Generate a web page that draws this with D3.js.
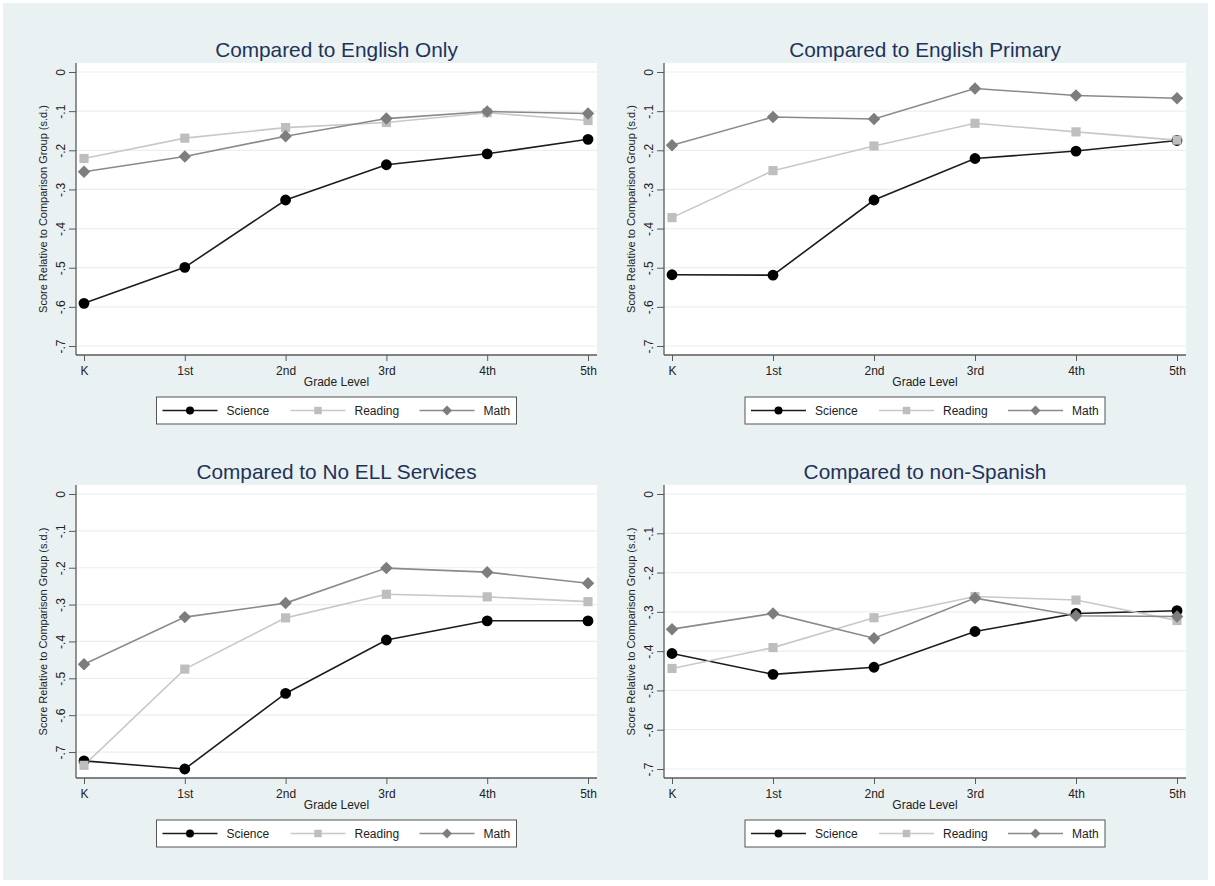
<!DOCTYPE html>
<html>
<head>
<meta charset="utf-8">
<script src="https://cdn.jsdelivr.net/npm/d3@7"></script>
<style>
  html, body { margin: 0; padding: 0; background: #ffffff; }
  svg { display: block; font-family: "Liberation Sans", Arial, sans-serif; }
</style>
</head>
<body>
<svg id="chart" width="1215" height="886"></svg>
<script>
// Grade levels on the x axis
const grades = ["K", "1st", "2nd", "3rd", "4th", "5th"];

// Y axis ticks and their labels
const yTickValues = [0, -0.1, -0.2, -0.3, -0.4, -0.5, -0.6, -0.7];
const yTickLabels = ["0", "-.1", "-.2", "-.3", "-.4", "-.5", "-.6", "-.7"];

// Panel titles
const panelTitles = [
  "Compared to English Only",
  "Compared to English Primary",
  "Compared to No ELL Services",
  "Compared to non-Spanish"
];

// Series names
const seriesNames = ["Science", "Reading", "Math"];

// Scores relative to comparison group (s.d.), one array per panel and subject
const scienceEnglishOnly = [-0.591, -0.499, -0.327, -0.237, -0.209, -0.172];
const readingEnglishOnly = [-0.221, -0.169, -0.142, -0.129, -0.104, -0.124];
const mathEnglishOnly    = [-0.255, -0.216, -0.164, -0.119, -0.101, -0.106];

const scienceEnglishPrimary = [-0.518, -0.519, -0.327, -0.221, -0.202, -0.175];
const readingEnglishPrimary = [-0.372, -0.252, -0.189, -0.131, -0.153, -0.174];
const mathEnglishPrimary    = [-0.187, -0.115, -0.120, -0.042, -0.060, -0.067];

const scienceNoEll = [-0.724, -0.746, -0.541, -0.396, -0.344, -0.344];
const readingNoEll = [-0.736, -0.475, -0.336, -0.272, -0.279, -0.292];
const mathNoEll    = [-0.462, -0.334, -0.296, -0.201, -0.212, -0.242];

const scienceNonSpanish = [-0.406, -0.459, -0.441, -0.350, -0.304, -0.297];
const readingNonSpanish = [-0.444, -0.391, -0.315, -0.261, -0.270, -0.322];
const mathNonSpanish    = [-0.344, -0.304, -0.367, -0.265, -0.310, -0.312];

const panelSeries = [
  [scienceEnglishOnly, readingEnglishOnly, mathEnglishOnly],
  [scienceEnglishPrimary, readingEnglishPrimary, mathEnglishPrimary],
  [scienceNoEll, readingNoEll, mathNoEll],
  [scienceNonSpanish, readingNonSpanish, mathNonSpanish]
];

// Styling
const seriesStyle = [
  { line: "#1c1c1c", fill: "#000000", symbol: "circle" },
  { line: "#c8c8c8", fill: "#bebebe", symbol: "square" },
  { line: "#8a8a8a", fill: "#7d7d7d", symbol: "diamond" }
];
const bgColor = "#eaf1f3";
const gridColor = "#e8eff2";
const axisColor = "#5a5a5a";
const textColor = "#222222";
const titleColor = "#1e3358";

const svg = d3.select("#chart");
svg.append("rect").attr("x", 0).attr("y", 0).attr("width", 1215).attr("height", 886).attr("fill", "#ffffff");
svg.append("rect").attr("x", 3).attr("y", 3).attr("width", 1205).attr("height", 877).attr("fill", bgColor);

function symbolPath(kind, big) {
  if (kind === "circle") return d3.symbol(d3.symbolCircle, big ? 92 : 50)();
  if (kind === "square") return d3.symbol(d3.symbolSquare, big ? 84 : 56)();
  return d3.symbol(d3.symbolSquare, big ? 78 : 50)();
}

const panelBoxes = [
  { left: 76,  right: 597,  top: 63,  bottom: 355 },
  { left: 664, right: 1186, top: 63,  bottom: 355 },
  { left: 76,  right: 597,  top: 485, bottom: 778 },
  { left: 664, right: 1186, top: 485, bottom: 778 }
];

panelBoxes.forEach((box, pi) => {
  const g = svg.append("g");
  const series = panelSeries[pi];
  const dataMin = d3.min(series.flat());
  const yMin = Math.min(-0.7, dataMin);

  const x = d3.scalePoint().domain(grades).range([box.left + 8, box.right - 9]);
  const y = d3.scaleLinear().domain([0, yMin]).range([box.top + 9, box.bottom - 9]);

  // plot region
  g.append("rect")
    .attr("x", box.left).attr("y", box.top)
    .attr("width", box.right - box.left).attr("height", box.bottom - box.top)
    .attr("fill", "#ffffff");

  // horizontal gridlines
  g.selectAll(".grid").data(yTickValues).join("line")
    .attr("x1", box.left).attr("x2", box.right)
    .attr("y1", d => y(d)).attr("y2", d => y(d))
    .attr("stroke", gridColor).attr("stroke-width", 1.2);

  // y axis
  const yAxis = d3.axisLeft(y).tickValues(yTickValues)
    .tickFormat((d, i) => yTickLabels[i]).tickSize(7).tickSizeOuter(0).tickPadding(3);
  const ya = g.append("g").attr("transform", `translate(${box.left},0)`).call(yAxis);
  ya.select(".domain").attr("stroke", axisColor).attr("stroke-width", 1.3)
    .attr("d", `M0,${box.top}V${box.bottom}`);
  ya.selectAll(".tick line").attr("stroke", axisColor).attr("stroke-width", 1);
  ya.selectAll(".tick text")
    .attr("font-size", 12).attr("fill", textColor)
    .attr("text-anchor", "middle")
    .attr("x", 0).attr("dy", 0)
    .attr("transform", "translate(-15,0) rotate(-90)")
    .attr("dominant-baseline", "central");

  // x axis
  const xAxis = d3.axisBottom(x).tickSize(6).tickSizeOuter(0).tickPadding(4);
  const xa = g.append("g").attr("transform", `translate(0,${box.bottom})`).call(xAxis);
  xa.select(".domain").attr("stroke", axisColor).attr("stroke-width", 1.3)
    .attr("d", `M${box.left},0H${box.right}`);
  xa.selectAll(".tick line").attr("stroke", axisColor).attr("stroke-width", 1);
  xa.selectAll(".tick text").attr("font-size", 12).attr("fill", textColor)
    .attr("y", 0).attr("dy", 20);

  // axis titles
  const midX = (box.left + box.right) / 2;
  const midY = (box.top + box.bottom) / 2;
  g.append("text")
    .attr("x", midX).attr("y", box.bottom + 31)
    .attr("text-anchor", "middle").attr("font-size", 12).attr("fill", textColor)
    .text("Grade Level");
  g.append("text")
    .attr("transform", `translate(${box.left - 29},${midY}) rotate(-90)`)
    .attr("text-anchor", "middle").attr("font-size", 11).attr("fill", textColor)
    .text("Score Relative to Comparison Group (s.d.)");

  // panel title
  g.append("text")
    .attr("x", midX).attr("y", box.top - 6)
    .attr("text-anchor", "middle").attr("font-size", 20.8).attr("fill", titleColor)
    .text(panelTitles[pi]);

  // series lines and markers
  const line = d3.line().x((d, i) => x(grades[i])).y(d => y(d));
  series.forEach((vals, si) => {
    const st = seriesStyle[si];
    g.append("path").datum(vals)
      .attr("d", line).attr("fill", "none")
      .attr("stroke", st.line).attr("stroke-width", 1.6);
  });
  series.forEach((vals, si) => {
    const st = seriesStyle[si];
    g.selectAll(null).data(vals).join("path")
      .attr("d", symbolPath(st.symbol, true))
      .attr("transform", (d, i) => `translate(${x(grades[i])},${y(d)})` + (st.symbol === "diamond" ? " rotate(45)" : ""))
      .attr("fill", st.fill);
  });

  // legend
  const lgLeft = midX - 180, lgTop = box.bottom + 42;
  const lg = g.append("g");
  lg.append("rect")
    .attr("x", lgLeft).attr("y", lgTop).attr("width", 360).attr("height", 27)
    .attr("fill", "#ffffff").attr("stroke", "#555555").attr("stroke-width", 1);
  const itemOffsets = [6, 134, 263];
  seriesNames.forEach((name, si) => {
    const st = seriesStyle[si];
    const x0 = lgLeft + itemOffsets[si];
    const cy = lgTop + 13.5;
    lg.append("line")
      .attr("x1", x0).attr("x2", x0 + 55).attr("y1", cy).attr("y2", cy)
      .attr("stroke", st.line).attr("stroke-width", 1.6);
    lg.append("path")
      .attr("d", symbolPath(st.symbol, false))
      .attr("transform", `translate(${x0 + 27.5},${cy})` + (st.symbol === "diamond" ? " rotate(45)" : ""))
      .attr("fill", st.fill);
    lg.append("text")
      .attr("x", x0 + 64).attr("y", cy + 4.5)
      .attr("font-size", 12).attr("fill", textColor)
      .text(name);
  });
});
</script>
</body>
</html>
